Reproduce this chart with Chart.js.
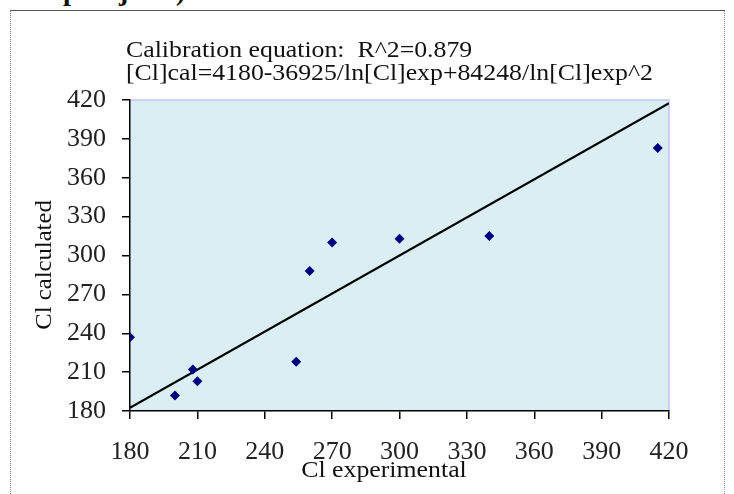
<!DOCTYPE html>
<html>
<head>
<meta charset="utf-8">
<script src="https://cdn.jsdelivr.net/npm/chart.js@4/dist/chart.umd.min.js"></script>
<style>
  html, body { margin: 0; padding: 0; background: #ffffff; }
  body { width: 734px; height: 494px; position: relative; overflow: hidden; }
  #frame { position: absolute; left: 10px; top: 10px; width: 715px; height: 500px;
           border-top: 1px solid #555; border-left: 1px dotted #888; border-right: 1px dotted #888; box-sizing: border-box; }
  .clip { position: absolute; top: -23px; font: bold 28px "Liberation Serif", serif; line-height: 28px; color: #111; }
  #wrap { position: absolute; left: 0; top: 0; width: 734px; height: 494px; }
</style>
</head>
<body>
<div class="clip" style="left:63px">p</div>
<div class="clip" style="left:119px">j</div>
<div class="clip" style="left:176px">)</div>
<div id="frame"></div>
<div id="wrap"><canvas id="c" width="734" height="494"></canvas></div>
<script>
// ---- data ----
const expX  = [180, 200, 208, 210, 254, 260, 270, 300, 340, 415];
const calcY = [237, 192, 212, 203, 218, 288, 310, 313, 315, 383];
const fitX  = [180, 420];
const fitY  = [182.5, 417.5];
const xTicks = [180, 210, 240, 270, 300, 330, 360, 390, 420];
const yTicks = [180, 210, 240, 270, 300, 330, 360, 390, 420];
const titleLine1 = "Calibration equation:  R^2=0.879";
const titleLine2 = "[Cl]cal=4180-36925/ln[Cl]exp+84248/ln[Cl]exp^2";
const xTitle = "Cl experimental";
const yTitle = "Cl calculated";

const serif = '"Liberation Serif", "Times New Roman", serif';

function stretchedText(ctx, text, x, y, sx) {
  ctx.save();
  ctx.translate(x, y);
  ctx.scale(sx, 1);
  ctx.fillText(text, 0, 0);
  ctx.restore();
}

const decor = {
  id: 'decor',
  beforeDraw(chart) {
    const { ctx, chartArea: a } = chart;
    ctx.save();
    ctx.fillStyle = '#DAEEF3';
    ctx.fillRect(a.left, a.top, a.right - a.left, a.bottom - a.top);
    ctx.strokeStyle = '#C4C4F4';
    ctx.lineWidth = 1.5;
    ctx.beginPath();
    ctx.moveTo(a.left, a.top);
    ctx.lineTo(a.right, a.top);
    ctx.lineTo(a.right, a.bottom);
    ctx.stroke();
    ctx.restore();
  },
  afterDraw(chart) {
    const { ctx } = chart;
    ctx.save();
    ctx.fillStyle = '#111';
    ctx.font = '24px ' + serif;
    ctx.textBaseline = 'alphabetic';
    ctx.textAlign = 'left';
    stretchedText(ctx, titleLine1, 126, 57, 1.075);
    stretchedText(ctx, titleLine2, 126, 80, 1.075);
    ctx.textAlign = 'center';
    stretchedText(ctx, xTitle, 384, 477, 1.075);
    ctx.font = '23.5px ' + serif;
    ctx.translate(51, 265);
    ctx.rotate(-Math.PI / 2);
    stretchedText(ctx, yTitle, 0, 0, 1.05);
    ctx.restore();
  }
};

const tickFont = { family: serif, size: 26 };

new Chart(document.getElementById('c'), {
  type: 'scatter',
  data: {
    datasets: [
      {
        label: 'fit',
        type: 'line',
        data: fitX.map((x, i) => ({ x, y: fitY[i] })),
        borderColor: '#000',
        borderWidth: 2,
        pointRadius: 0,
        fill: false,
        order: 2
      },
      {
        label: 'data',
        data: expX.map((x, i) => ({ x, y: calcY[i] })),
        pointStyle: 'rectRot',
        pointRadius: 5,
        pointBackgroundColor: '#00007F',
        pointBorderColor: '#00007F',
        borderWidth: 0,
        order: 1
      }
    ]
  },
  options: {
    responsive: false,
    animation: false,
    events: [],
    layout: { padding: { left: 0, top: 100, right: 65, bottom: 0 } },
    plugins: { legend: { display: false }, tooltip: { enabled: false }, title: { display: false } },
    scales: {
      x: {
        type: 'linear', min: 180, max: 420,
        afterBuildTicks: s => { s.ticks = xTicks.map(v => ({ value: v })); },
        afterFit: s => { s.height = 83; },
        ticks: { font: tickFont, color: '#222', padding: 18, maxRotation: 0 },
        grid: { drawOnChartArea: false, drawTicks: true, tickLength: 8, color: '#000', lineWidth: 1.5 },
        border: { display: true, color: '#000', width: 1.5 }
      },
      y: {
        type: 'linear', min: 180, max: 420,
        afterBuildTicks: s => { s.ticks = yTicks.map(v => ({ value: v })); },
        afterFit: s => { s.width = 130; },
        ticks: { font: tickFont, color: '#222', padding: 16 },
        grid: { drawOnChartArea: false, drawTicks: true, tickLength: 8, color: '#000', lineWidth: 1.5 },
        border: { display: true, color: '#000', width: 1.5 }
      }
    }
  },
  plugins: [decor]
});
</script>
</body>
</html>
